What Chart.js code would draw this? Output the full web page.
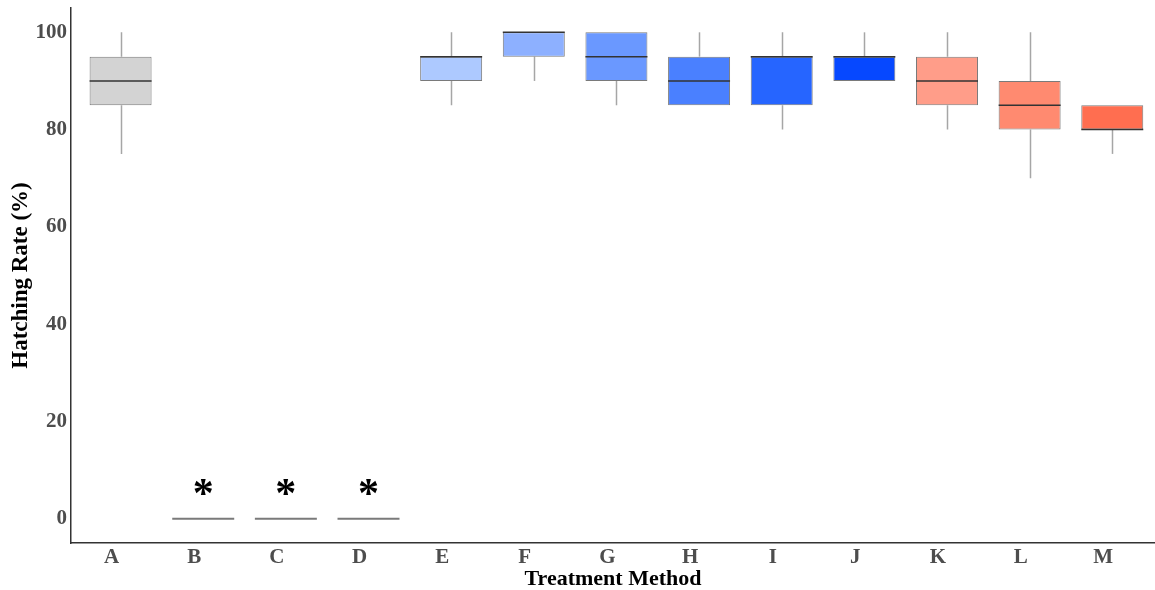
<!DOCTYPE html>
<html><head><meta charset="utf-8">
<script src="https://cdn.jsdelivr.net/npm/chart.js@4/dist/chart.umd.min.js"></script>
<style>html,body{margin:0;padding:0;background:#fff}#wrap{width:1155px;height:590px}</style>
</head><body><div id="wrap"><canvas id="c" width="1155" height="590"></canvas></div>
<script>
const categories = ['A','B','C','D','E','F','G','H','I','J','K','L','M'];
const whiskerLow  = [75, 0, 0, 0, 85, 90, 85, 85, 80, 90, 80, 70, 75];
const q1          = [85, 0, 0, 0, 90, 95, 90, 85, 85, 90, 85, 80, 80];
const median      = [90, 0, 0, 0, 95,100, 95, 90, 95, 95, 90, 85, 80];
const q3          = [95, 0, 0, 0, 95,100,100, 95, 95, 95, 95, 90, 85];
const whiskerHigh = [100,0, 0, 0,100,100,100,100,100,100,100,100, 85];
const sigMarks    = ['', '*', '*', '*', '', '', '', '', '', '', '', '', ''];
const yTicks      = [0, 20, 40, 60, 80, 100];
const boxColors   = ['#d3d3d3','#d3d3d3','#d3d3d3','#d3d3d3','#adc9ff','#8db0ff','#6a98ff',
                     '#4a80ff','#2665ff','#0648ff','#ff9d89','#ff8a70','#ff6e50'];

const SERIF = "'Liberation Serif','Times New Roman',serif";

const boxParts = {
  id: 'boxParts',
  beforeDatasetsDraw(chart) {
    const ctx = chart.ctx, y = chart.scales.y;
    const meta = chart.getDatasetMeta(0);
    ctx.save();
    ctx.strokeStyle = '#a6a6a6';
    ctx.lineWidth = 1.5;
    meta.data.forEach((bar, i) => {
      const x = Math.round(bar.x) + 0.5;
      ctx.beginPath();
      if (whiskerHigh[i] > q3[i]) {
        ctx.moveTo(x, y.getPixelForValue(q3[i]));
        ctx.lineTo(x, y.getPixelForValue(whiskerHigh[i]));
      }
      if (whiskerLow[i] < q1[i]) {
        ctx.moveTo(x, y.getPixelForValue(q1[i]));
        ctx.lineTo(x, y.getPixelForValue(whiskerLow[i]));
      }
      ctx.stroke();
    });
    ctx.restore();
  },
  afterDatasetsDraw(chart) {
    const ctx = chart.ctx, y = chart.scales.y;
    const meta = chart.getDatasetMeta(0);
    ctx.save();
    meta.data.forEach((bar, i) => {
      const half = bar.width / 2;
      const py = y.getPixelForValue(median[i]);
      const collapsed = q1[i] === q3[i] && q1[i] === median[i] && whiskerLow[i] === whiskerHigh[i];
      ctx.strokeStyle = collapsed ? '#7a7a7a' : '#333333';
      ctx.lineWidth = collapsed ? 2 : 1.5;
      ctx.beginPath();
      ctx.moveTo(bar.x - half, py);
      ctx.lineTo(bar.x + half, py);
      ctx.stroke();
      if (sigMarks[i]) {
        ctx.fillStyle = '#000';
        ctx.font = 'bold 42px ' + SERIF;
        ctx.textAlign = 'center';
        ctx.textBaseline = 'middle';
        ctx.fillText(sigMarks[i], bar.x, y.getPixelForValue(whiskerHigh[i]) - 23);
      }
    });
    ctx.restore();
  }
};

new Chart(document.getElementById('c'), {
  type: 'bar',
  data: {
    datasets: [{
      data: categories.map((c, i) => ({ x: i, y: [q1[i], q3[i]] })),
      backgroundColor: boxColors,
      borderColor: '#7a7a7a',
      borderWidth: 1,
      borderSkipped: false,
      barPercentage: 0.75,
      categoryPercentage: 1
    }]
  },
  options: {
    responsive: false,
    animation: false,
    devicePixelRatio: 1,
    layout: { padding: { top: 8, right: 0, left: 0, bottom: 0 } },
    plugins: { legend: { display: false }, tooltip: { enabled: false } },
    scales: {
      x: {
        type: 'linear',
        offset: false,
        min: -0.6,
        max: 12.517,
        afterFit(s) { s.height = 47; s.paddingLeft = 0; s.paddingRight = 0; },
        afterBuildTicks(s) { s.ticks = categories.map((c, i) => ({ value: i })); },
        grid: { display: false, drawTicks: false },
        border: { display: true, color: '#333333', width: 1.5 },
        ticks: {
          autoSkip: false, maxRotation: 0, padding: 4, labelOffset: -9,
          color: '#4d4d4d',
          font: { family: SERIF, size: 21, weight: 'bold', lineHeight: 1 },
          callback: (v) => categories[v] ?? ''
        },
        title: {
          display: true, text: 'Treatment Method', color: '#000',
          font: { family: SERIF, size: 22, weight: 'bold', lineHeight: 1 },
          padding: { top: 0, bottom: 0 }
        }
      },
      y: {
        type: 'linear',
        min: -5,
        max: 105,
        afterFit(s) { s.width = 71; s.paddingTop = 0; s.paddingBottom = 0; },
        afterBuildTicks(s) { s.ticks = yTicks.map(v => ({ value: v })); },
        grid: { display: false, drawTicks: false },
        border: { display: true, color: '#333333', width: 1.5 },
        ticks: {
          padding: 4, color: '#4d4d4d',
          font: { family: SERIF, size: 21, weight: 'bold', lineHeight: 1 }
        },
        title: {
          display: true, text: 'Hatching Rate (%)', color: '#000',
          font: { family: SERIF, size: 23, weight: 'bold', lineHeight: 1 },
          padding: { top: 10, bottom: 0 }
        }
      }
    }
  },
  plugins: [boxParts]
});
</script>
</body></html>
